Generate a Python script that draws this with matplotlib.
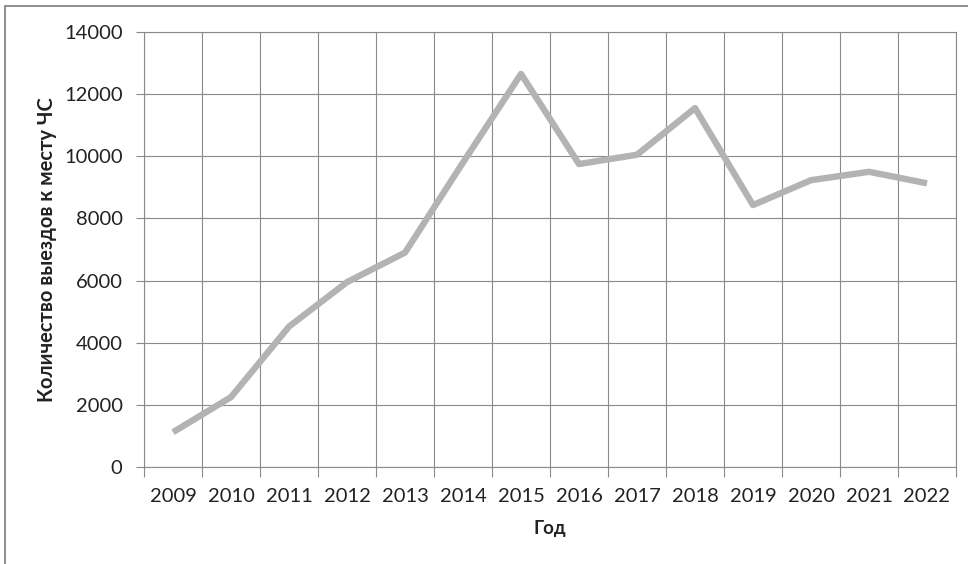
import matplotlib.pyplot as plt
import matplotlib.patches as patches
import numpy as np

years = ['2009', '2010', '2011', '2012', '2013', '2014', '2015',
         '2016', '2017', '2018', '2019', '2020', '2021', '2022']
calls = [1120, 2250, 4520, 5950, 6900, 9800, 12650,
         9750, 10050, 11550, 8430, 9230, 9500, 9130]

GRID = '#8a8a8a'
TEXT = '#222222'

plt.rcParams['font.family'] = ['Lato', 'DejaVu Sans']

fig = plt.figure(figsize=(9.68, 5.64), dpi=100)
ax = fig.add_axes([0.1488, 0.172, 0.8388, 0.7713])

x = np.arange(len(years))
ax.plot(x, calls, color='#b3b3b3', linewidth=4.6, solid_joinstyle='round',
        solid_capstyle='butt', zorder=3)

ax.set_xlim(-0.5, len(years) - 0.5)
ax.set_ylim(0, 14000)

# category boundaries carry the grid, centres carry the labels
ax.set_xticks(np.arange(len(years) + 1) - 0.5)
ax.set_xticklabels([])
ax.set_xticks(x, minor=True)
ax.set_xticklabels(years, minor=True)
ax.set_yticks(np.arange(0, 14001, 2000))

ax.tick_params(axis='x', which='major', length=7, width=0.8, color=GRID)
ax.tick_params(axis='x', which='minor', length=0, pad=15,
               labelsize=14.5, labelcolor=TEXT)
ax.tick_params(axis='y', length=6, width=0.8, color=GRID, pad=9.5,
               labelsize=14.5, labelcolor=TEXT)

ax.grid(True, which='major', color=GRID, linewidth=0.8)
ax.set_axisbelow(True)
for s in ax.spines.values():
    s.set_color(GRID)
    s.set_linewidth(0.8)

ax.set_xlabel('Год', fontsize=13.5, fontweight='bold', color=TEXT, labelpad=11)
ax.set_ylabel('Количество выездов к месту ЧС', fontsize=14.5,
              fontweight='bold', color=TEXT, labelpad=5)

# outer chart frame
fig.patches.append(patches.Rectangle((5 / 968, -0.1), 1.2, 1 - 6 / 564 + 0.1,
                                     transform=fig.transFigure, fill=False,
                                     edgecolor='#7a7a7a', linewidth=1.2))

fig.savefig('out.png', dpi=100)
